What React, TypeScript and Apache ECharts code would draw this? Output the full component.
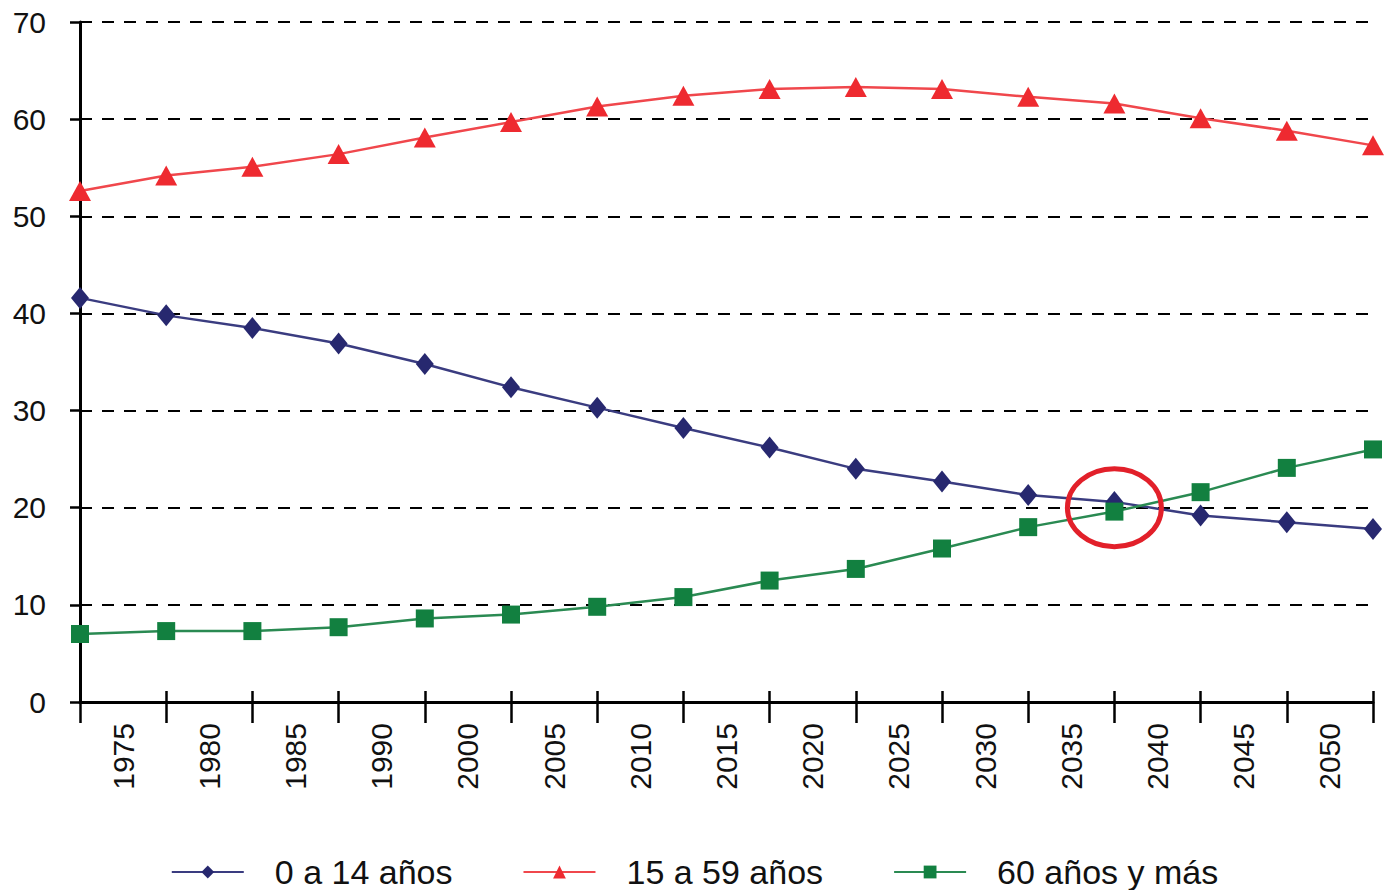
import React, { useEffect, useRef } from "react";
import * as echarts from "echarts";

const pointCategories = ["1", "2", "3", "4", "5", "6", "7", "8", "9", "10", "11", "12", "13", "14", "15", "16"];
const tickLabels = ["1975", "1980", "1985", "1990", "2000", "2005", "2010", "2015", "2020", "2025", "2030", "2035", "2040", "2045", "2050"];
const yTicks = [0, 10, 20, 30, 40, 50, 60, 70];

const seriesNames = ["0 a 14 años", "15 a 59 años", "60 años y más"];
const age0to14 = [41.6, 39.8, 38.5, 36.9, 34.8, 32.4, 30.3, 28.2, 26.2, 24.0, 22.7, 21.3, 20.6, 19.2, 18.5, 17.8];
const age15to59 = [52.6, 54.2, 55.1, 56.4, 58.1, 59.7, 61.3, 62.4, 63.1, 63.3, 63.1, 62.3, 61.6, 60.1, 58.8, 57.3];
const age60plus = [7.0, 7.3, 7.3, 7.7, 8.6, 9.0, 9.8, 10.8, 12.5, 13.7, 15.8, 18.0, 19.6, 21.6, 24.1, 26.0];
// crossing point highlighted with a red circle: [category index, value]
const highlight = [12, 20];

const FONT = "'Liberation Sans', Arial, sans-serif";

export default function App() {
  const ref = useRef<HTMLDivElement>(null);
  useEffect(() => {
    document.body.style.margin = "0";
    const chart = echarts.init(ref.current!, null, { renderer: "svg" });
    chart.setOption({
      animation: false,
      backgroundColor: "#ffffff",
      textStyle: { fontFamily: FONT },
      grid: { left: 80, right: 16, top: 22, bottom: 188, containLabel: false },
      legend: {
        left: "center",
        top: 850,
        itemWidth: 72,
        itemHeight: 16,
        itemGap: 70,
        textStyle: { fontSize: 34, color: "#111", fontFamily: FONT, padding: [0, 0, 0, 26] },
        data: seriesNames,
      },
      xAxis: [
        {
          type: "category",
          data: pointCategories,
          boundaryGap: false,
          position: "bottom",
          axisLine: { show: true, lineStyle: { color: "#000", width: 3 } },
          axisTick: { show: true, inside: true, length: 11, lineStyle: { color: "#000", width: 2.5 } },
          axisLabel: { show: false },
          splitLine: { show: false },
        },
        {
          type: "category",
          data: tickLabels,
          boundaryGap: true,
          position: "bottom",
          axisLine: { show: false },
          axisTick: { show: true, length: 21, lineStyle: { color: "#000", width: 2.5 } },
          axisLabel: { show: true, rotate: 90, margin: 21, fontSize: 30, color: "#111", fontFamily: FONT },
          splitLine: { show: false },
        },
      ],
      yAxis: {
        type: "value",
        min: yTicks[0],
        max: yTicks[yTicks.length - 1],
        interval: 10,
        axisLine: { show: true, lineStyle: { color: "#000", width: 3 } },
        axisTick: { show: true, length: 10, lineStyle: { color: "#000", width: 2.5 } },
        axisLabel: { fontSize: 30, color: "#111", margin: 34, fontFamily: FONT },
        splitLine: { show: true, lineStyle: { color: "#000", width: 2, type: [12, 10] } },
      },
      series: [
        {
          name: seriesNames[0],
          type: "line",
          data: age0to14,
          symbol: "diamond",
          symbolSize: [18, 22],
          showAllSymbol: true,
          itemStyle: { color: "#27286f" },
          lineStyle: { color: "#3a3c80", width: 2.5 },
          z: 2,
        },
        {
          name: seriesNames[1],
          type: "line",
          data: age15to59,
          symbol: "triangle",
          symbolSize: [22, 20],
          showAllSymbol: true,
          itemStyle: { color: "#ee2a30" },
          lineStyle: { color: "#f0474c", width: 2.5 },
          z: 3,
        },
        {
          name: seriesNames[2],
          type: "line",
          data: age60plus,
          symbol: "rect",
          symbolSize: [18, 18],
          showAllSymbol: true,
          itemStyle: { color: "#128040" },
          lineStyle: { color: "#2a8a52", width: 2.5 },
          z: 4,
        },
      ],
    });
    const p = chart.convertToPixel({ xAxisIndex: 0, yAxisIndex: 0 }, highlight) as number[];
    chart.setOption({
      graphic: [
        {
          type: "ellipse",
          shape: { cx: p[0], cy: p[1], rx: 47, ry: 39 },
          style: { fill: "none", stroke: "#e2202a", lineWidth: 5 },
          z: 100,
        },
      ],
    });
    return () => chart.dispose();
  }, []);
  return <div ref={ref} style={{ width: 1389, height: 890 }} />;
}
